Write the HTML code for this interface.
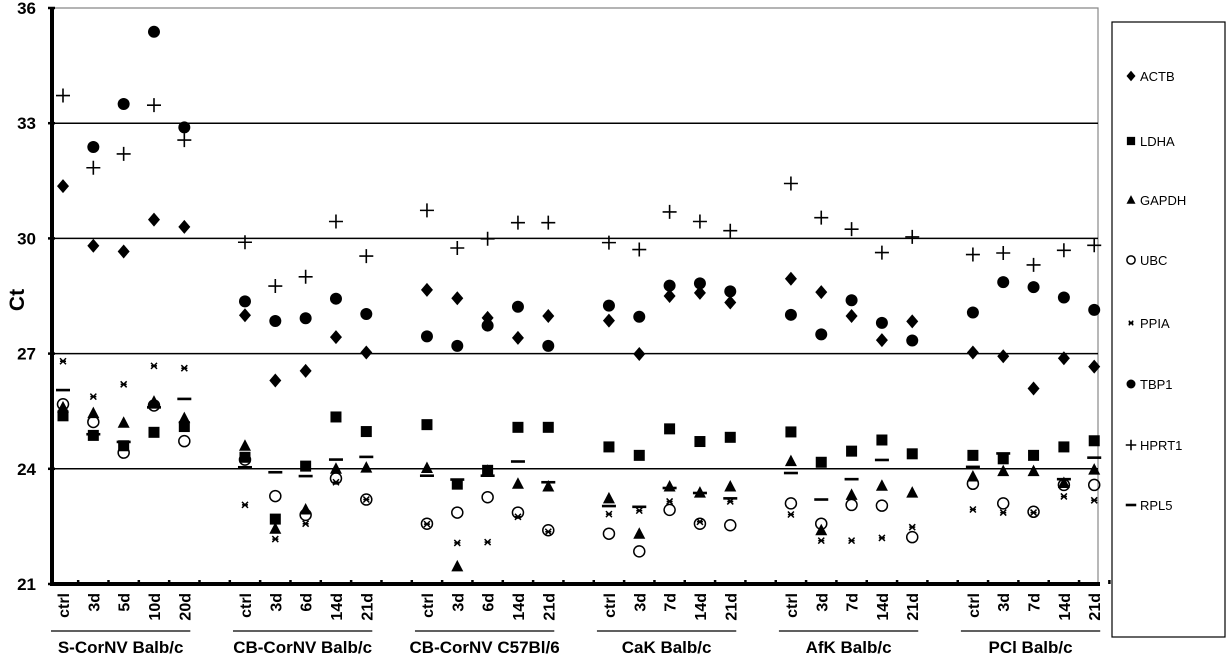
<!DOCTYPE html>
<html><head><meta charset="utf-8"><style>
html,body{margin:0;padding:0;background:#fff;}
svg{display:block;font-family:"Liberation Sans",Arial,sans-serif;}
</style></head><body>
<svg id="chart" width="1228" height="656" viewBox="0 0 1228 656"></svg>
<script>
const groups = ["S-CorNV Balb/c","CB-CorNV Balb/c","CB-CorNV C57Bl/6","CaK Balb/c","AfK Balb/c","PCl Balb/c"];
const timepoints = [
  ["ctrl","3d","5d","10d","20d"],
  ["ctrl","3d","6d","14d","21d"],
  ["ctrl","3d","6d","14d","21d"],
  ["ctrl","3d","7d","14d","21d"],
  ["ctrl","3d","7d","14d","21d"],
  ["ctrl","3d","7d","14d","21d"]
];
const yTicks = [21,24,27,30,33,36];
const gridValues = [24,27,30,33];
const seriesNames = ["ACTB","LDHA","GAPDH","UBC","PPIA","TBP1","HPRT1","RPL5"];
const ACTB  = [31.36,29.81,29.66,30.49,30.30, 28.0,26.3,26.55,27.43,27.03, 28.66,28.44,27.93,27.41,27.98, 27.86,26.99,28.5,28.58,28.33, 28.95,28.6,27.98,27.35,27.84, 27.03,26.93,26.09,26.88,26.66];
const LDHA  = [25.38,24.87,24.6,24.95,25.1, 24.3,22.69,24.07,25.35,24.97, 25.15,23.6,23.96,25.08,25.08, 24.57,24.35,25.04,24.71,24.82, 24.96,24.17,24.46,24.75,24.39, 24.35,24.26,24.35,24.57,24.73];
const GAPDH = [25.6,25.45,25.2,25.75,25.32, 24.6,22.44,22.94,24.0,24.03, 24.02,21.46,23.95,23.61,23.54, 23.23,22.31,23.54,23.38,23.54, 24.2,22.4,23.32,23.56,23.38, 23.8,23.94,23.94,23.63,23.98];
const UBC   = [25.68,25.22,24.42,25.65,24.72, 24.24,23.29,22.8,23.75,23.2, 22.57,22.86,23.26,22.86,22.4, 22.31,21.85,22.93,22.57,22.53, 23.1,22.57,23.06,23.04,22.22, 23.61,23.1,22.88,23.58,23.58];
const PPIA  = [26.8,25.88,26.2,26.68,26.62, 23.06,22.17,22.57,23.65,23.2, 22.56,22.07,22.09,22.75,22.36, 22.82,22.91,23.15,22.62,23.15, 22.81,22.13,22.13,22.2,22.48, 22.94,22.86,22.86,23.28,23.18];
const TBP1  = [null,32.38,33.5,35.38,32.89, 28.36,27.85,27.92,28.43,28.03, 27.45,27.2,27.73,28.22,27.2, 28.25,27.96,28.77,28.83,28.62, 28.01,27.5,28.39,27.8,27.34, 28.07,28.86,28.73,28.46,28.14];
const HPRT1 = [33.72,31.84,32.2,33.47,32.56, 29.9,28.76,29.0,30.44,29.54, 30.73,29.75,29.99,30.41,30.41, 29.89,29.71,30.69,30.44,30.2, 31.43,30.54,30.24,29.63,30.04, 29.58,29.62,29.31,29.69,29.82];
const RPL5  = [26.05,24.9,24.7,25.6,25.82, 24.04,23.91,23.81,24.24,24.31, 23.82,23.72,23.82,24.19,23.65, 23.03,23.01,23.5,23.37,23.23, 23.89,23.2,23.73,24.23,null, 24.05,24.4,null,23.73,24.29];
const seriesData = [ACTB,LDHA,GAPDH,UBC,PPIA,TBP1,HPRT1,RPL5];

const NS="http://www.w3.org/2000/svg";
const svg=document.getElementById('chart');
const PL=52,PR=1098,PT=8,PB=584,YMIN=21,YMAX=36;
function yScale(v){return PT+(YMAX-v)*(PB-PT)/(YMAX-YMIN);}
const SLOT0=63,SLOTW=30.33;
function xScale(g,j){return SLOT0+(g*6+j)*SLOTW;}
function el(tag,attrs,parent){const e=document.createElementNS(NS,tag);for(const k in attrs)e.setAttribute(k,attrs[k]);(parent||svg).appendChild(e);return e;}

const frame=el('path',{d:`M${PL},${PT}H${PR}V${PB}`,stroke:'#888',fill:'none','stroke-width':1.2});


gridValues.forEach(v=>{
  const l=el('line',{x1:PL,x2:PR,y1:yScale(v),y2:yScale(v),stroke:'#000','stroke-width':1.5});
  
  
});
const ya=el('line',{x1:PL,x2:PL,y1:PT,y2:PB,stroke:'#000','stroke-width':4});


yTicks.forEach(v=>{
  const t=el('text',{x:36,y:yScale(v)+6,'text-anchor':'end','font-size':17,'font-weight':'bold'});
  t.textContent=v;
  
  
  el('line',{x1:PL-4,x2:PL+3,y1:yScale(v),y2:yScale(v),stroke:'#000','stroke-width':2.5});
});
const yt=el('text',{x:0,y:0,transform:'translate(24,300) rotate(-90)','text-anchor':'middle','font-size':21,'font-weight':'bold'});
yt.textContent='Ct';


const xa=el('line',{x1:PL-2,x2:PR+2,y1:PB,y2:PB,stroke:'#000','stroke-width':4});


for(let i=0;i<35;i++){
  const tx=SLOT0+(i+0.5)*SLOTW;
  el('line',{x1:tx,x2:tx,y1:PB-4,y2:PB,stroke:'#000','stroke-width':2.5});
}
groups.forEach((g,gi)=>{
  timepoints[gi].forEach((tp,j)=>{
    const x=xScale(gi,j);
    const t=el('text',{x:0,y:0,transform:`translate(${x+6},593) rotate(-90)`,'text-anchor':'end','font-size':16,'font-weight':'bold'});
    t.textContent=tp;
    
    
  });
  const x0=xScale(gi,0)-12,x1=xScale(gi,4)+6;
  const ul=el('line',{x1:x0,x2:x1,y1:631,y2:631,stroke:'#000','stroke-width':1.2});
  
  
  const gt=el('text',{x:(x0+x1)/2,y:653,'text-anchor':'middle','font-size':17,'font-weight':'bold'});
  gt.textContent=g;
  
  
});

function marker(type,x,y,parent,s){
  s=s||1;
  switch(type){
    case 'ACTB': return el('path',{d:`M${x},${y-7*s}L${x+6*s},${y}L${x},${y+7*s}L${x-6*s},${y}Z`,fill:'#000'},parent);
    case 'LDHA': return el('rect',{x:x-5.5*s,y:y-5.5*s,width:11*s,height:11*s,fill:'#000'},parent);
    case 'GAPDH': return el('path',{d:`M${x},${y-6.5*s}L${x+6*s},${y+5*s}L${x-6*s},${y+5*s}Z`,fill:'#000'},parent);
    case 'UBC': return el('circle',{cx:x,cy:y,r:5.5*s,fill:'none',stroke:'#000','stroke-width':1.5},parent);
    case 'PPIA': return el('path',{d:`M${x-3*s},${y-3*s}L${x+3*s},${y+3*s}M${x+3*s},${y-3*s}L${x-3*s},${y+3*s}M${x-3*s},${y}H${x+3*s}`,stroke:'#000','stroke-width':1.5,fill:'none'},parent);
    case 'TBP1': return el('circle',{cx:x,cy:y,r:6*s,fill:'#000'},parent);
    case 'HPRT1': return el('path',{d:`M${x-7*s},${y}H${x+7*s}M${x},${y-7*s}V${y+7*s}`,stroke:'#000','stroke-width':1.6,fill:'none'},parent);
    case 'RPL5': return el('line',{x1:x-7*s,x2:x+7*s,y1:y,y2:y,stroke:'#000','stroke-width':2.6},parent);
  }
}
seriesNames.forEach((name,si)=>{
  const g=el('g',{});
  
  
  seriesData[si].forEach((v,k)=>{
    if(v===null) return;
    const gi=Math.floor(k/5),j=k%5;
    const m=marker(name,xScale(gi,j),yScale(v),g);
    
    
  });
});

const lg=el('g',{});


el('rect',{x:1112,y:22,width:113,height:615,fill:'#fff',stroke:'#000','stroke-width':1.2},lg);
const legendY=[76,141,200,260,323,384,445,505];
seriesNames.forEach((name,i)=>{
  const ge=el('g',{},lg);
  
  
  marker(name,1131,legendY[i],ge,0.75);
  const t=el('text',{x:1140,y:legendY[i]+5,'font-size':13},ge);
  t.textContent=name;
});
</script>
</body></html>
